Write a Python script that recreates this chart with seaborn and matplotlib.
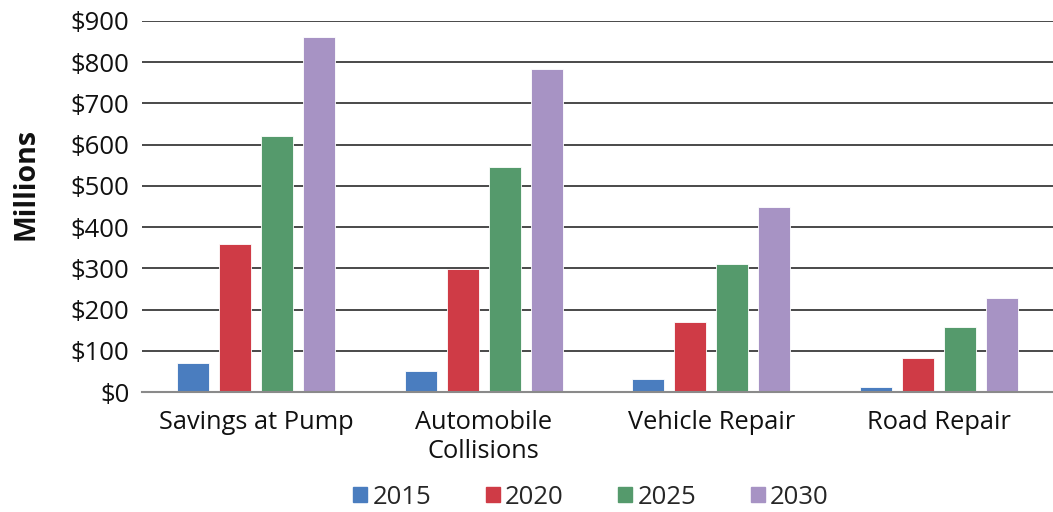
import matplotlib
matplotlib.use("Agg")
import matplotlib.pyplot as plt
import seaborn as sns
import pandas as pd
from matplotlib.ticker import FuncFormatter

categories = ["Savings at Pump", "Automobile\nCollisions", "Vehicle Repair", "Road Repair"]
years = ["2015", "2020", "2025", "2030"]
v2015 = [70, 51, 31, 13]
v2020 = [360, 298, 171, 82]
v2025 = [620, 545, 310, 158]
v2030 = [860, 784, 450, 228]
colors = ["#4A7DBF", "#CF3B46", "#559A6C", "#A793C4"]
yticks = [0, 100, 200, 300, 400, 500, 600, 700, 800, 900]

rows = []
for yr, vals in zip(years, [v2015, v2020, v2025, v2030]):
    for c, v in zip(categories, vals):
        rows.append({"Category": c, "Year": yr, "Value": v})
df = pd.DataFrame(rows)

sns.set_theme(style="white")
plt.rcParams["font.family"] = ["Open Sans", "DejaVu Sans"]

fig = plt.figure(figsize=(10.53, 5.12), dpi=100)
ax = fig.add_axes([142 / 1053, 1 - 392 / 512, 1 - 142 / 1053, (392 - 21) / 512])

sns.barplot(data=df, x="Category", y="Value", hue="Year", order=categories,
            hue_order=years, palette=colors, width=0.737, gap=0.24,
            saturation=1, edgecolor="#ffffff", linewidth=0.6, ax=ax, zorder=3)

ax.set_xlim(-0.5, 3.5)
ax.set_ylim(0, 900)
ax.set_yticks(yticks)
ax.yaxis.set_major_formatter(FuncFormatter(lambda v, p: f"${int(v)}"))
ax.grid(axis="y", color="#3a3a3a", linewidth=1.3, zorder=0)
ax.set_axisbelow(True)
for s in ["top", "right", "left"]:
    ax.spines[s].set_visible(False)
ax.spines["bottom"].set_color("#8a8a8a")
ax.spines["bottom"].set_linewidth(1.5)
ax.spines["bottom"].set_zorder(4)

ax.tick_params(axis="y", length=0, pad=9, labelsize=18.5, colors="#111111")
ax.tick_params(axis="x", length=0, pad=13, labelsize=18.3, colors="#111111")
for t in ax.get_xticklabels():
    t.set_linespacing(1.2)
ax.set_xlabel("")
ax.set_ylabel("Millions", fontsize=20.5, fontweight="bold", color="#111111")
ax.yaxis.set_label_coords(-0.111, 0.56)

ax.get_legend().remove()
handles = [plt.Rectangle((0, 0), 1, 1, color=c) for c in colors]
fig.legend(handles, years, loc="center", bbox_to_anchor=(591 / 1053, 1 - 497 / 512),
           ncol=4, frameon=False, fontsize=18.5, handlelength=0.55, handleheight=0.55,
           handletextpad=0.2, columnspacing=2.12)

fig.savefig("out.png", dpi=100)
